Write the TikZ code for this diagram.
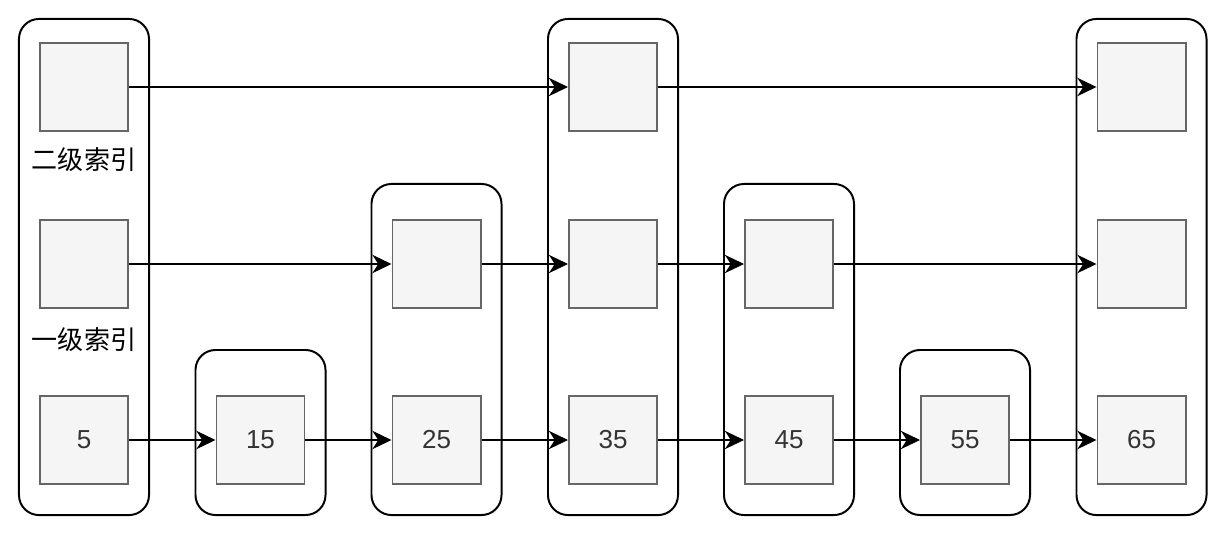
\documentclass[tikz,border=0pt]{standalone}
\usepackage{fontspec}
\setmainfont{Liberation Sans}
\newfontfamily\cjk{Noto Sans CJK SC}
\usetikzlibrary{arrows.meta}
\definecolor{cgrey}{HTML}{666666}
\definecolor{cfill}{HTML}{F5F5F5}
\definecolor{ctext}{HTML}{333333}
\tikzset{
  every picture/.style={font=\fontsize{18.5}{21}\selectfont},
  tower/.style={draw=black, line width=1.4pt, rounded corners=0.5cm, minimum width=3.25cm, minimum height=#1},
  cell/.style={draw=cgrey, fill=cfill, line width=1.4pt, minimum width=2.2cm, minimum height=2.2cm, inner sep=0pt, text=ctext},
  link/.style={-{Stealth[length=0.48cm, width=0.46cm, inset=0.15cm]}, line width=1.3pt, draw=black},
  level/.style={font=\cjk\fontsize{18.5}{21}\selectfont},
}

\begin{document}
\begin{tikzpicture}[x=0.025cm, y=-0.025cm]
  \useasboundingbox (0,0) rectangle (1230,541);
  % towers
  \node[tower=12.4cm] (t1) at (84,267) {};
  \node[tower=4.125cm] (t2) at (260.5,432.5) {};
  \node[tower=8.275cm] (t3) at (436.5,349.5) {};
  \node[tower=12.4cm] (t4) at (613,267) {};
  \node[tower=8.275cm] (t5) at (789,349.5) {};
  \node[tower=4.125cm] (t6) at (965,432.5) {};
  \node[tower=12.4cm] (t7) at (1141.5,267) {};
  % level labels
  \node[level] (l2) at (84,160) {二级索引};
  \node[level] (l1) at (84,340) {一级索引};
  % second level
  \node[cell] (a1) at (84,87) {};
  \node[cell] (a4) at (613,87) {};
  \node[cell] (a7) at (1141.5,87) {};
  % first level
  \node[cell] (b1) at (84,264) {};
  \node[cell] (b3) at (436.5,264) {};
  \node[cell] (b4) at (613,264) {};
  \node[cell] (b5) at (789,264) {};
  \node[cell] (b7) at (1141.5,264) {};
  % data
  \node[cell] (c1) at (84,440) {5};
  \node[cell] (c2) at (260.5,440) {15};
  \node[cell] (c3) at (436.5,440) {25};
  \node[cell] (c4) at (613,440) {35};
  \node[cell] (c5) at (789,440) {45};
  \node[cell] (c6) at (965,440) {55};
  \node[cell] (c7) at (1141.5,440) {65};
  % links
  \draw[link] (a1) -- (a4);
  \draw[link] (a4) -- (a7);
  \draw[link] (b1) -- (b3);
  \draw[link] (b3) -- (b4);
  \draw[link] (b4) -- (b5);
  \draw[link] (b5) -- (b7);
  \draw[link] (c1) -- (c2);
  \draw[link] (c2) -- (c3);
  \draw[link] (c3) -- (c4);
  \draw[link] (c4) -- (c5);
  \draw[link] (c5) -- (c6);
  \draw[link] (c6) -- (c7);
\end{tikzpicture}
\end{document}
